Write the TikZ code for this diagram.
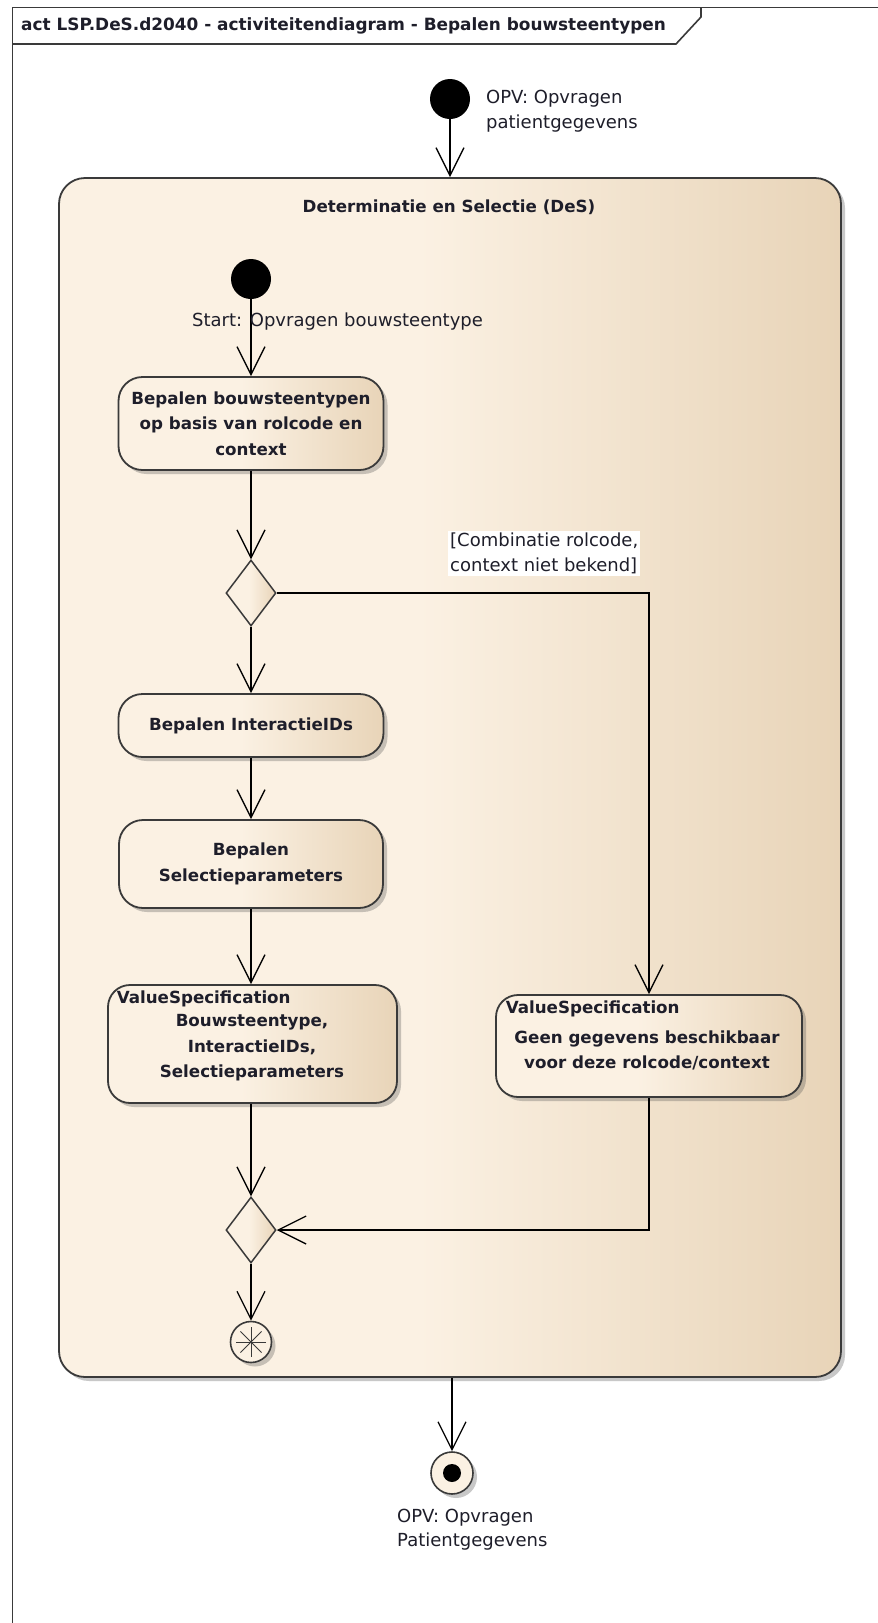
\documentclass[tikz,border=0pt]{standalone}
\usepackage{fontspec}
\setmainfont{DejaVu Sans}
\usetikzlibrary{shapes.geometric,arrows.meta,shadows,calc}

\definecolor{eacream}{HTML}{FBF1E3}
\definecolor{eatan}{HTML}{E8D4B8}
\definecolor{ealine}{HTML}{3A3A3A}
\definecolor{eatext}{HTML}{1E1E2A}
\pgfdeclarehorizontalshading{eashade}{100bp}{color(0bp)=(eacream); color(25bp)=(eacream); color(48bp)=(eacream); color(75bp)=(eatan); color(100bp)=(eatan)}

\tikzset{
    eashadow/.style={drop shadow={shadow xshift=4pt,shadow yshift=-4pt,opacity=.3,fill=black!70}},
    boldtxt/.style={font=\fontsize{16.7}{25.5}\selectfont\bfseries, text=eatext},
    plaintxt/.style={font=\fontsize{18}{24.5}\selectfont, text=eatext, inner sep=0pt},
    startnode/.style={circle, fill=black, minimum size=40pt, inner sep=0pt},
    actionbox/.style={draw=ealine, line width=1.8pt, rounded corners=24pt, shading=eashade, eashadow, boldtxt, align=center, inner sep=0pt},
    valspec/.style={actionbox, rounded corners=22pt},
    decision/.style={diamond, draw=ealine, line width=1.5pt, shading=eashade, minimum width=50pt, minimum height=66pt, inner sep=0pt},
    flowend/.style={circle, draw=ealine, line width=1.6pt, fill=eacream, minimum size=41pt, inner sep=0pt, eashadow},
    flowfinal/.style={flowend, path picture={
        \foreach \ang in {0,45,90,135}
            \draw[ealine, line width=1pt] ($(path picture bounding box.center)+(\ang:15pt)$) -- ($(path picture bounding box.center)+(\ang+180:15pt)$);}},
    flow/.style={draw=black, line width=1.3pt, -{Straight Barb[length=28pt,width=28pt,line width=1.3pt]}},
    frameline/.style={draw=ealine, line width=1.6pt},
}

\begin{document}
\begin{tikzpicture}[x=1pt,y=-1pt]
    \useasboundingbox (0,0) rectangle (878,1623);
    \clip (0,0) rectangle (878,1623);
    \fill[white] (0,0) rectangle (878,1623);

    % diagram frame
    \draw[frameline] (12.5,1660) -- (12.5,7.5) -- (900,7.5);
    \draw[frameline] (12.5,44) -- (676,44) -- (701,17) -- (701,7.5);
    \node[anchor=west, inner sep=0pt, font=\fontsize{16.9}{20}\selectfont\bfseries, text=eatext] (frametitle) at (21,26)
        {act LSP.DeS.d2040 - activiteitendiagram - Bepalen bouwsteentypen};

    % activity
    \node[draw=ealine, line width=1.8pt, rounded corners=26pt, shading=eashade, eashadow,
          minimum width=782pt, minimum height=1199pt, inner sep=0pt] (des) at (450,777.5) {};
    \node[boldtxt] (destitle) at (449,207) {Determinatie en Selectie (DeS)};

    \node[startnode] (opv) at (450,99) {};
    \node[plaintxt, anchor=west, align=left] (opvlabel) at (486,111) {OPV: Opvragen\\patientgegevens};

    \node[startnode] (start) at (251,279) {};
    \node[actionbox, minimum width=265pt, minimum height=93pt] (bepalen) at (251,423.5)
        {Bepalen bouwsteentypen\\op basis van rolcode en\\context};
    \node[decision] (keuze) at (251,593) {};
    \node[actionbox, minimum width=265pt, minimum height=63pt] (interactie) at (251,725.5) {Bepalen InteractieIDs};
    \node[actionbox, minimum width=264pt, minimum height=88pt] (selectie) at (251,864) {Bepalen\\Selectieparameters};

    \node[valspec, minimum width=289pt, minimum height=118pt] (vsone) at (252.5,1044) {};
    \node[boldtxt, anchor=west, inner sep=0pt] (vsonehead) at ($(vsone.north west)+(9.5,15)$) {ValueSpecification};
    \node[boldtxt, align=center, inner sep=0pt] (vsonetext) at (252,1048) {Bouwsteentype,\\InteractieIDs,\\Selectieparameters};

    \node[valspec, minimum width=306pt, minimum height=102pt] (vstwo) at (649,1046) {};
    \node[boldtxt, anchor=west, inner sep=0pt] (vstwohead) at ($(vstwo.north west)+(10.5,15)$) {ValueSpecification};
    \node[boldtxt, align=center, inner sep=0pt] (vstwotext) at (647,1050.5) {Geen gegevens beschikbaar\\voor deze rolcode/context};

    \node[decision] (samen) at (251,1230) {};
    \node[flowfinal] (stop) at (251,1342) {};

    \node[flowend, minimum size=42pt] (opvend) at (452,1473) {};
    \fill[black] (opvend.center) circle (9pt);
    \node[plaintxt, anchor=west, align=left] (opvendlabel) at (397,1529.5) {OPV: Opvragen\\Patientgegevens};

    % flows
    \draw[flow] (opv) -- (opv |- des.north);
    \draw[flow] (start) -- (bepalen);
    \draw[flow] (bepalen) -- (keuze);
    \draw[flow] (keuze) -- (interactie);
    \draw[flow] (interactie) -- (selectie);
    \draw[flow] (selectie) -- (selectie |- vsone.north);
    \draw[flow] (keuze.east) -| (vstwo.north);
    \draw[flow] (vsone.south -| samen) -- (samen);
    \draw[flow] (vstwo.south) |- (samen.east);
    \draw[flow] (samen) -- (stop);
    \draw[flow] (des.south -| opvend) -- (opvend);

    \node[plaintxt, anchor=west] (startlabel) at (192,322) {Start: Opvragen bouwsteentype};
    \node[plaintxt, anchor=west, align=left, fill=white, inner sep=2pt] (guard) at (448,553.5)
        {[Combinatie rolcode,\\context niet bekend]};
\end{tikzpicture}
\end{document}
